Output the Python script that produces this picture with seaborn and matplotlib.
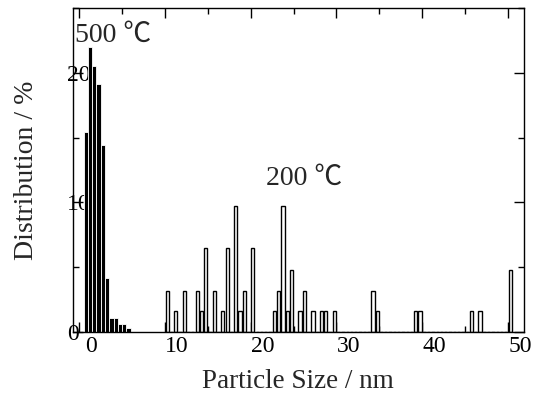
import numpy as np
import pandas as pd
import matplotlib
matplotlib.use('Agg')
import matplotlib.pyplot as plt
import matplotlib.transforms as mtransforms
from matplotlib.ticker import MultipleLocator
import seaborn as sns

# particle size distribution, bin centres in nm, values in %
size_500 = [0.75, 1.25, 1.75, 2.25, 2.75, 3.25, 3.75, 4.25, 4.75, 5.25, 5.75]
dist_500 = [15.4, 22.0, 20.5, 19.1, 14.4, 4.2, 1.1, 1.1, 0.6, 0.6, 0.3]

size_200 = [10.25, 11.25, 12.25, 13.75, 14.25, 14.75, 15.75, 16.75, 17.25,
            18.25, 18.75, 19.25, 20.25, 22.75, 23.25, 23.75, 24.25, 24.75,
            25.75, 26.25, 27.25, 28.25, 28.75, 29.75, 34.25, 34.75, 39.25,
            39.75, 45.75, 46.75, 50.25]
dist_200 = [3.2, 1.6, 3.2, 3.2, 1.6, 6.5, 3.2, 1.6, 6.5,
            9.7, 1.6, 3.2, 6.5, 1.6, 3.2, 9.7, 1.6, 4.8,
            1.6, 3.2, 1.6, 1.6, 1.6, 1.6, 3.2, 1.6, 1.6,
            1.6, 1.6, 1.6, 4.8]

x_ticks = [0, 10, 20, 30, 40, 50]
y_ticks = [0, 10, 20]
label_500 = '500 ℃'
label_200 = '200 ℃'

df_500 = pd.DataFrame({'size': size_500, 'dist': dist_500})
df_200 = pd.DataFrame({'size': size_200, 'dist': dist_200})

sns.set_style('ticks')
plt.rcParams['font.family'] = ['Liberation Serif', 'Noto Sans CJK JP']
plt.rcParams['axes.linewidth'] = 1.0

fig = plt.figure(figsize=(5.42, 3.94), dpi=100)
ax = fig.add_axes([0.1347, 0.1574, 0.8321, 0.8223])

sns.histplot(data=df_500, x='size', weights='dist', binwidth=0.5, binrange=(0.5, 6.0),
             color='black', edgecolor='white', linewidth=0.6, alpha=1, ax=ax)
sns.histplot(data=df_200, x='size', weights='dist', binwidth=0.5, binrange=(10.0, 50.5),
             shrink=0.75, color='white', edgecolor='black', linewidth=1.0,
             alpha=1, ax=ax)

ax.set_xlim(-0.73, 51.87)
ax.set_ylim(0, 25)
ax.set_xticks(x_ticks)
ax.set_yticks(y_ticks)
ax.xaxis.set_minor_locator(MultipleLocator(5))
ax.yaxis.set_minor_locator(MultipleLocator(5))
ax.tick_params(which='both', direction='in', top=True, right=True,
               width=1.0, color='black', labelsize=17, labelcolor='black')
ax.tick_params(which='major', length=7.5)
ax.tick_params(which='minor', length=4)
ax.tick_params(axis='x', pad=3)
ax.tick_params(axis='y', pad=4.3)
for s in ax.spines.values():
    s.set_color('black')
    s.set_zorder(5)

# tick labels in the original sit a little off their ticks
shift = mtransforms.ScaledTranslation(0.12, 0, fig.dpi_scale_trans)
for lbl in ax.get_xticklabels():
    lbl.set_transform(lbl.get_transform() + shift)
for lbl in ax.get_yticklabels():
    lbl.set_horizontalalignment('left')

ax.set_xlabel('Particle Size / nm', fontsize=19.5)
ax.set_ylabel('Distribution / %', fontsize=20)
ax.xaxis.set_label_coords(0.498, -0.114)
ax.yaxis.set_label_coords(-0.075, 0.5)

ax.text(-0.5, 22.4, label_500, fontsize=20)
ax.text(21.8, 11.35, label_200, fontsize=20)

fig.savefig('out.png', dpi=100)
